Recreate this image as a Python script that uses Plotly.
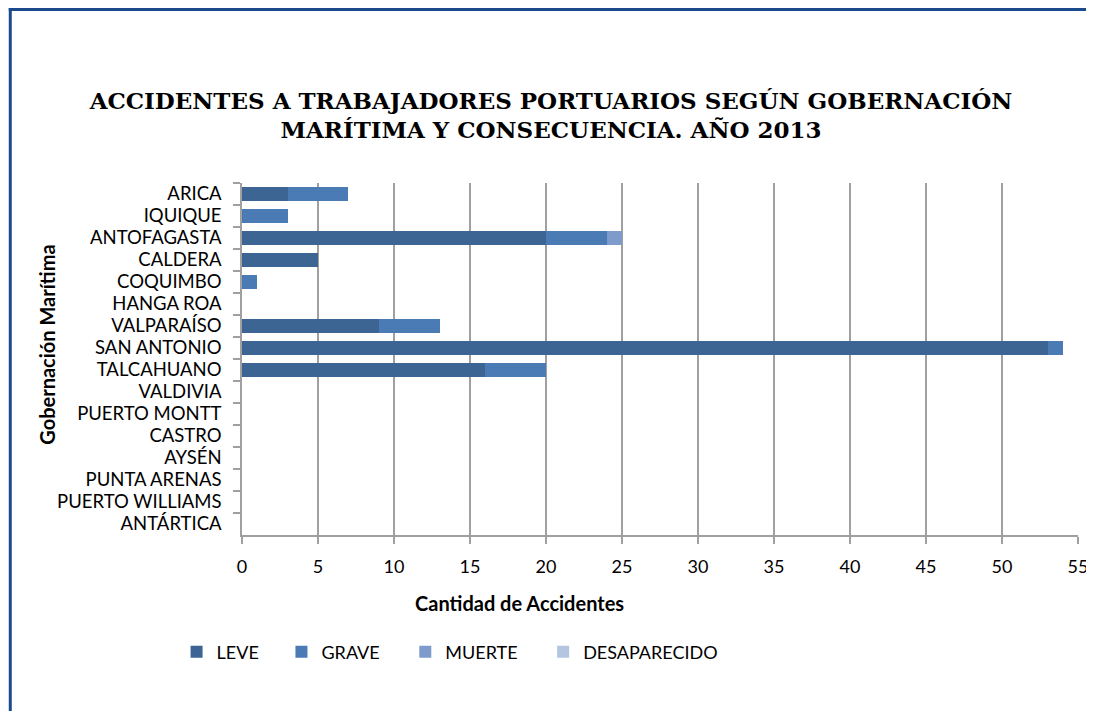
import plotly.graph_objects as go

categories = ["ARICA", "IQUIQUE", "ANTOFAGASTA", "CALDERA", "COQUIMBO", "HANGA ROA",
              "VALPARAÍSO", "SAN ANTONIO", "TALCAHUANO", "VALDIVIA", "PUERTO MONTT",
              "CASTRO", "AYSÉN", "PUNTA ARENAS", "PUERTO WILLIAMS", "ANTÁRTICA"]
leve = [3, 0, 20, 5, 0, 0, 9, 53, 16, 0, 0, 0, 0, 0, 0, 0]
grave = [4, 3, 4, 0, 1, 0, 4, 1, 4, 0, 0, 0, 0, 0, 0, 0]
muerte = [0, 0, 1, 0, 0, 0, 0, 0, 0, 0, 0, 0, 0, 0, 0, 0]
desaparecido = [0, 0, 0, 0, 0, 0, 0, 0, 0, 0, 0, 0, 0, 0, 0, 0]
x_ticks = [0, 5, 10, 15, 20, 25, 30, 35, 40, 45, 50, 55]

series = [("LEVE", leve, "#3D6594"), ("GRAVE", grave, "#4A7BB5"),
          ("MUERTE", muerte, "#7D9CCB"), ("DESAPARECIDO", desaparecido, "#B4C5E1")]

# page has an 8px body margin; work in page coords and convert
OFF = 8
W, H = 1094 - OFF, 719 - 2 * OFF
PLOT_L, PLOT_R, PLOT_T, PLOT_B = 241.5, 1078.5, 183, 535  # page coords
L = PLOT_L - OFF
R = W - (PLOT_R - OFF)
T = PLOT_T - OFF
B = H - (PLOT_B - OFF)
pw, ph = W - L - R, H - T - B


def px_x(p):
    return (p - OFF - L) / pw


def px_y(p):
    return (PLOT_B - p) / ph


legend_names = ["legend", "legend2", "legend3", "legend4"]
legend_px = [176, 281, 405, 543]

fig = go.Figure()
for (name, vals, col), lg in zip(series, legend_names):
    fig.add_trace(go.Bar(
        y=categories, x=vals, name=name, orientation="h",
        marker=dict(color=col, line=dict(width=0)),
        legend=lg,
    ))

font_main = "Lato, 'Open Sans', sans-serif"

layout_legends = {}
for lg, xp in zip(legend_names, legend_px):
    layout_legends[lg] = dict(
        x=px_x(xp), y=px_y(652), xanchor="left", yanchor="middle",
        orientation="h", bgcolor="rgba(0,0,0,0)",
        font=dict(family=font_main, size=18, color="#000"),
        itemwidth=30, itemclick=False, itemdoubleclick=False,
    )

fig.update_layout(
    width=W, height=H,
    margin=dict(l=L, r=R, t=T, b=B, pad=0, autoexpand=False),
    paper_bgcolor="white", plot_bgcolor="white",
    barmode="stack", bargap=0.33,
    title=dict(
        text="ACCIDENTES A TRABAJADORES PORTUARIOS SEGÚN GOBERNACIÓN<br>MARÍTIMA Y CONSECUENCIA. AÑO 2013",
        x=(551 - OFF) / W, xanchor="center", xref="container",
        y=1 - (108.5 - OFF) / H, yanchor="middle", yref="container",
        font=dict(family="'DejaVu Serif', serif", size=23, color="#000", weight="bold"),
    ),
    xaxis=dict(
        range=[0, 55], tickvals=x_ticks, ticktext=[str(v) for v in x_ticks],
        showgrid=True, gridcolor="#A0A0A0", gridwidth=1.5,
        showline=True, linecolor="#A0A0A0", linewidth=1.5,
        ticks="outside", ticklen=7, tickcolor="#A0A0A0", tickwidth=1.5,
        zeroline=False, ticklabelstandoff=8, automargin=False,
        tickfont=dict(family=font_main, size=18, color="#000"),
    ),
    yaxis=dict(
        type="category", categoryorder="array", categoryarray=categories,
        autorange="reversed",
        showgrid=False, showline=True, linecolor="#A0A0A0", linewidth=1.5,
        ticks="outside", ticklen=7, tickcolor="#A0A0A0", tickwidth=1.5,
        tickson="boundaries", ticklabelstandoff=15, automargin=False,
        tickfont=dict(family=font_main, size=18.5, color="#000"),
    ),
    showlegend=True,
    **layout_legends,
)

fig.add_annotation(
    text="<b>Cantidad de Accidentes</b>", xref="paper", yref="paper",
    x=px_x(519), y=px_y(603), xanchor="center", yanchor="middle", showarrow=False,
    font=dict(family=font_main, size=20, color="#000"),
)
fig.add_annotation(
    text="<b>Gobernación Marítima</b>", xref="paper", yref="paper",
    x=px_x(46), y=px_y(345), xanchor="center", yanchor="middle", showarrow=False,
    textangle=-90,
    font=dict(family=font_main, size=20, color="#000"),
)

# frame border (top and left edges visible in reference)
border = "#1B4A8C"
fig.add_shape(type="line", xref="paper", yref="paper",
              x0=px_x(OFF), x1=px_x(1100), y0=px_y(9.5), y1=px_y(9.5),
              line=dict(color=border, width=3))
fig.add_shape(type="line", xref="paper", yref="paper",
              x0=px_x(OFF + 1.5), x1=px_x(OFF + 1.5), y0=px_y(8), y1=px_y(730),
              line=dict(color=border, width=3))

fig.write_html("out.html")
